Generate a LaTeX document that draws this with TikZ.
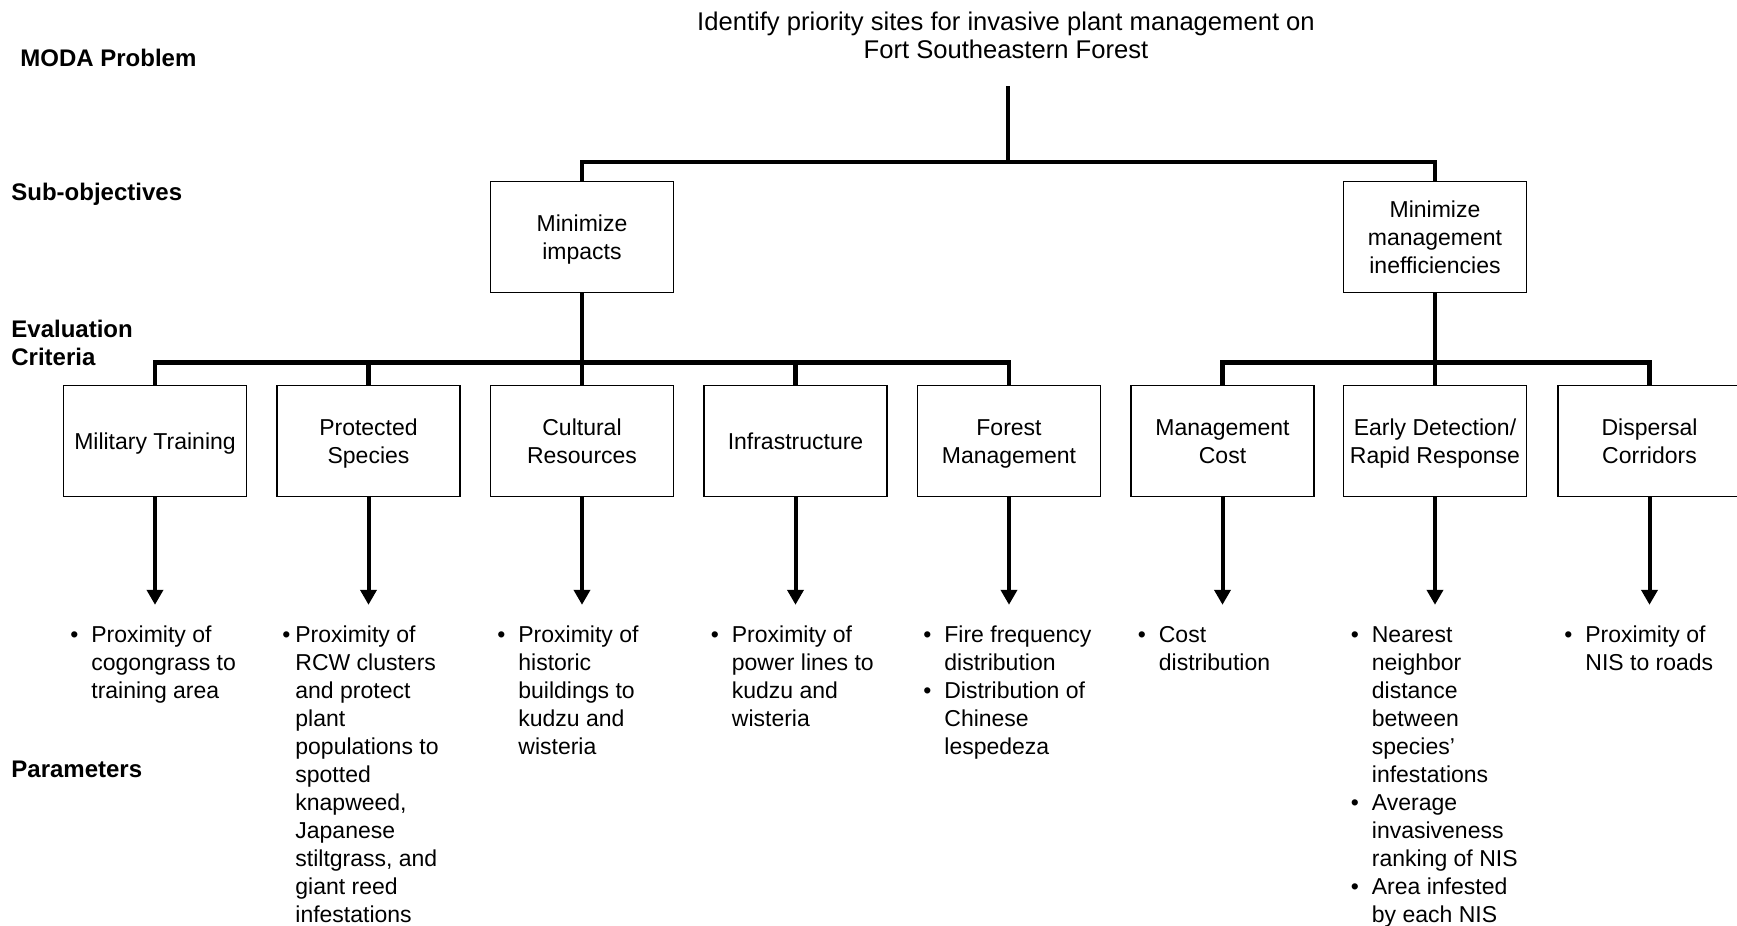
\documentclass[tikz,border=0pt]{standalone}
\usepackage{fontspec}
\setmainfont{Liberation Sans}
\usetikzlibrary{arrows.meta}
\newcommand\blt[1]{\makebox[#1][l]{\textbullet}}
\newcommand\ind[1]{\hspace*{#1}}
\newcommand\bs{\rule[-2.5pt]{0pt}{13.2pt}}
\begin{document}
\begin{tikzpicture}[x=0.5pt,y=-0.5pt,
  box/.style={draw,line width=0.9pt,minimum width=91.5pt,minimum height=55.5pt,align=center,inner sep=1pt,font=\fontsize{11.5}{14}\selectfont},
  lbl/.style={anchor=west,inner sep=0pt,align=left,font=\fontsize{12}{14}\selectfont\bfseries},
  conn/.style={line width=2.2pt},
  arr/.style={line width=2pt,-{Triangle[width=8pt,length=7.5pt]},shorten >=8.6pt},
  par/.style={anchor=base west,inner sep=0pt,font=\fontsize{11.5}{14}\selectfont}
]
\useasboundingbox (0,0) rectangle (1737,926);
\clip (0,0) rectangle (1737,926);

% title and level labels
\node[align=center,inner sep=0pt,font=\fontsize{12.8}{14}\selectfont] (title) at (1006,35)
  {Identify priority sites for invasive plant management on\\Fort Southeastern Forest};
\node[lbl] (lmoda) at (20,57.6) {MODA Problem};
\node[lbl] (lsub) at (11,194) {Sub-objectives};
\node[lbl] (leval) at (11,343) {Evaluation\\Criteria};
\node[lbl] (lpar) at (11,769) {Parameters};

% sub-objectives
\node[box] (s1) at (582,237) {\bs Minimize\\impacts\bs};
\node[box] (s2) at (1435,237) {\bs Minimize\\management\\inefficiencies\bs};

% evaluation criteria
\node[box] (e1) at (155,441) {\bs Military Training};
\node[box] (e2) at (368.5,441) {\bs Protected\\Species\bs};
\node[box] (e3) at (582,441) {\bs Cultural\\Resources\bs};
\node[box] (e4) at (795.5,441) {\bs Infrastructure};
\node[box] (e5) at (1009,441) {\bs Forest\\Management\bs};
\node[box] (e6) at (1222.5,441) {\bs Management\\Cost\bs};
\node[box] (e7) at (1435,441) {\bs Early Detection/\\Rapid Response\bs};
\node[box] (e8) at (1649.5,441) {\bs Dispersal\\Corridors\bs};

% parameters
\node[par] (p1) at (70,642) {\begin{tabular}[t]{@{}l@{}}
\blt{10.5pt}Proximity of\\ \ind{10.5pt}cogongrass to\\ \ind{10.5pt}training area\end{tabular}};
\node[par] (p2) at (282,642) {\begin{tabular}[t]{@{}l@{}}
\blt{6.5pt}Proximity of\\ \ind{6.5pt}RCW clusters\\ \ind{6.5pt}and protect\\ \ind{6.5pt}plant\\
\ind{6.5pt}populations to\\ \ind{6.5pt}spotted\\ \ind{6.5pt}knapweed,\\ \ind{6.5pt}Japanese\\
\ind{6.5pt}stiltgrass, and\\ \ind{6.5pt}giant reed\\ \ind{6.5pt}infestations\end{tabular}};
\node[par] (p3) at (497,642) {\begin{tabular}[t]{@{}l@{}}
\blt{10.5pt}Proximity of\\ \ind{10.5pt}historic\\ \ind{10.5pt}buildings to\\ \ind{10.5pt}kudzu and\\ \ind{10.5pt}wisteria\end{tabular}};
\node[par] (p4) at (710.5,642) {\begin{tabular}[t]{@{}l@{}}
\blt{10.5pt}Proximity of\\ \ind{10.5pt}power lines to\\ \ind{10.5pt}kudzu and\\ \ind{10.5pt}wisteria\end{tabular}};
\node[par] (p5) at (923,642) {\begin{tabular}[t]{@{}l@{}}
\blt{10.5pt}Fire frequency\\ \ind{10.5pt}distribution\\ \blt{10.5pt}Distribution of\\ \ind{10.5pt}Chinese\\ \ind{10.5pt}lespedeza\end{tabular}};
\node[par] (p6) at (1137.5,642) {\begin{tabular}[t]{@{}l@{}}
\blt{10.5pt}Cost\\ \ind{10.5pt}distribution\end{tabular}};
\node[par] (p7) at (1350.5,642) {\begin{tabular}[t]{@{}l@{}}
\blt{10.5pt}Nearest\\ \ind{10.5pt}neighbor\\ \ind{10.5pt}distance\\ \ind{10.5pt}between\\ \ind{10.5pt}species’\\
\ind{10.5pt}infestations\\ \blt{10.5pt}Average\\ \ind{10.5pt}invasiveness\\ \ind{10.5pt}ranking of NIS\\
\blt{10.5pt}Area infested\\ \ind{10.5pt}by each NIS\end{tabular}};
\node[par] (p8) at (1564,642) {\begin{tabular}[t]{@{}l@{}}
\blt{10.5pt}Proximity of\\ \ind{10.5pt}NIS to roads\end{tabular}};

% connectors: top level
\coordinate (top) at (1008,86);
\coordinate (bus0) at (1008,162);
\draw[conn] (top) -- (bus0);
\draw[conn] (s1.north) |- (bus0) -| (s2.north);

% connectors: criteria
\draw[conn] (s1.south) -- (e3.north);
\draw[conn] (e1.north) -- ++(0,-22) -| (e5.north);
\draw[conn] (e2.north) -- ++(0,-22);
\draw[conn] (e4.north) -- ++(0,-22);
\draw[conn] (s2.south) -- (e7.north);
\draw[conn] (e6.north) -- ++(0,-22) -| (e8.north);

% arrows to parameters
\foreach \i in {1,...,8} {
  \draw[arr] (e\i.south) -- (e\i.south |- p\i.north);
}
\end{tikzpicture}
\end{document}
